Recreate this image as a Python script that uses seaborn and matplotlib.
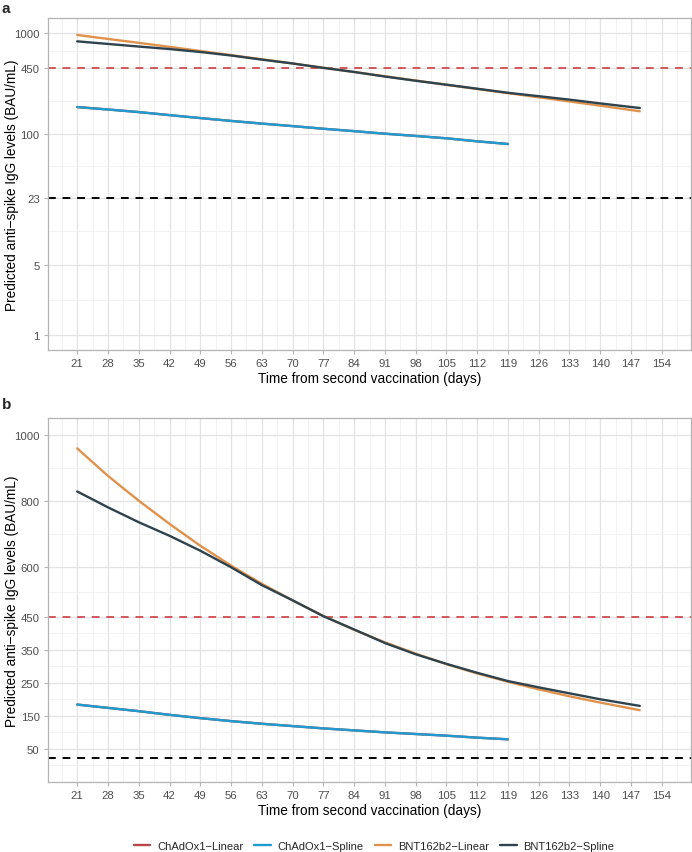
import numpy as np
import pandas as pd
import matplotlib
matplotlib.use("Agg")
import matplotlib.pyplot as plt
import matplotlib.ticker as mticker
import seaborn as sns

# ---- data ----
days_chad = [21, 28, 35, 42, 49, 56, 63, 70, 77, 84, 91, 98, 105, 112, 119]
chad_linear = [184, 174, 164, 153, 143, 134, 126, 119, 112, 106, 100, 95, 90, 84, 79]
chad_spline = [184, 174, 164, 153, 143, 134, 126, 119, 112, 106, 100, 95, 90, 84, 79]

days_bnt = [21, 28, 35, 42, 49, 56, 63, 70, 77, 84, 91, 98, 105, 112, 119, 126, 133, 140, 149]
bnt_linear = [958, 875, 800, 730, 664, 604, 549, 499, 452, 410, 372, 338, 306, 278, 253, 230, 209, 190, 167]
bnt_spline = [828, 780, 735, 694, 649, 599, 545, 499, 451, 411, 370, 336, 307, 280, 255, 236, 218, 200, 180]

series_names = ["ChAdOx1\u2212Linear", "ChAdOx1\u2212Spline", "BNT162b2\u2212Linear", "BNT162b2\u2212Spline"]
series_colors = ["#B8474C", "#1F9BCF", "#E0924C", "#2E434D"]

x_ticks = list(range(21, 155, 7))
y_ticks_log = [1, 5, 23, 100, 450, 1000]
y_ticks_lin = [50, 150, 250, 350, 450, 600, 800, 1000]
threshold_high = 450
threshold_low = 23

# ---- long table ----
frames = []
for name, d, v in [(series_names[0], days_chad, chad_linear),
                   (series_names[1], days_chad, chad_spline),
                   (series_names[2], days_bnt, bnt_linear),
                   (series_names[3], days_bnt, bnt_spline)]:
    frames.append(pd.DataFrame({"day": d, "level": v, "series": name}))
df = pd.concat(frames, ignore_index=True)

sns.set_theme(style="white")
plt.rcParams["font.family"] = ["Liberation Sans", "DejaVu Sans"]

W, H = 692, 853
fig = plt.figure(figsize=(W / 100, H / 100), dpi=100)

def add_ax(left, top, right, bottom):
    return fig.add_axes([left / W, 1 - bottom / H, (right - left) / W, (bottom - top) / H])

ax_a = add_ax(48, 19, 691, 351)
ax_b = add_ax(48, 419, 691, 783)

palette = dict(zip(series_names, series_colors))

def style_axis(ax):
    ax.set_xlim(14.35, 160.65)
    ax.set_xticks(x_ticks)
    ax.xaxis.set_minor_locator(mticker.FixedLocator([t + 3.5 for t in [14] + x_ticks]))
    ax.grid(which="major", color="#E3E3E3", linewidth=0.9, zorder=0)
    ax.grid(which="minor", color="#F0F0F0", linewidth=0.6, zorder=0)
    ax.set_axisbelow(True)
    for s in ax.spines.values():
        s.set_color("#B3B3B3")
        s.set_linewidth(0.9)
    ax.tick_params(axis="both", which="major", length=3, width=0.8, color="#B3B3B3",
                   labelsize=8.2, labelcolor="#4D4D4D", pad=3, bottom=True, left=True)
    ax.tick_params(axis="both", which="minor", length=0)
    ax.set_xlabel("Time from second vaccination (days)", fontsize=9.8, color="black", labelpad=2)
    ax.set_ylabel("Predicted anti\u2212spike IgG levels (BAU/mL)", fontsize=9.8, color="black")
    ax.yaxis.set_label_coords(-29 / 643, 0.5)

for ax in (ax_a, ax_b):
    ax.axhline(threshold_high, color="#D0575A", linestyle=(0, (4, 3.5)), linewidth=1.4, zorder=2)
    ax.axhline(threshold_low, color="black", linestyle=(0, (4, 3.5)), linewidth=1.4, zorder=2)
    sns.lineplot(data=df, x="day", y="level", hue="series", hue_order=series_names,
                 palette=palette, linewidth=1.7, ax=ax, legend=(ax is ax_b), zorder=3)

# panel a: log scale
ax_a.set_yscale("log")
ax_a.set_ylim(10 ** -0.15, 10 ** 3.15)
ax_a.yaxis.set_major_locator(mticker.FixedLocator(y_ticks_log))
ax_a.yaxis.set_major_formatter(mticker.FixedFormatter([str(t) for t in y_ticks_log]))
minor_log = [np.sqrt(a * b) for a, b in zip(y_ticks_log[:-1], y_ticks_log[1:])]
ax_a.yaxis.set_minor_locator(mticker.FixedLocator(minor_log))
ax_a.yaxis.set_minor_formatter(mticker.NullFormatter())
style_axis(ax_a)

# panel b: linear scale
ax_b.set_ylim(-50, 1050)
ax_b.set_yticks(y_ticks_lin)
ax_b.set_yticklabels([str(t) for t in y_ticks_lin])
ax_b.yaxis.set_minor_locator(mticker.FixedLocator([0, 100, 200, 300, 400, 525, 700, 900]))
style_axis(ax_b)

handles, labels = ax_b.get_legend_handles_labels()
ax_b.get_legend().remove()
for h in handles:
    h.set_linewidth(1.7)
fig.legend(handles, labels, loc="center", bbox_to_anchor=(374 / W, 1 - 847 / H), ncol=4,
           frameon=False, fontsize=8.0, handlelength=1.5, handletextpad=0.6, columnspacing=1.0)

fig.text(2 / W, 1 - 9 / H, "a", fontsize=11, fontweight="bold", ha="left", va="center")
fig.text(2 / W, 1 - 405 / H, "b", fontsize=11, fontweight="bold", ha="left", va="center")

fig.savefig("out.png", dpi=100)
